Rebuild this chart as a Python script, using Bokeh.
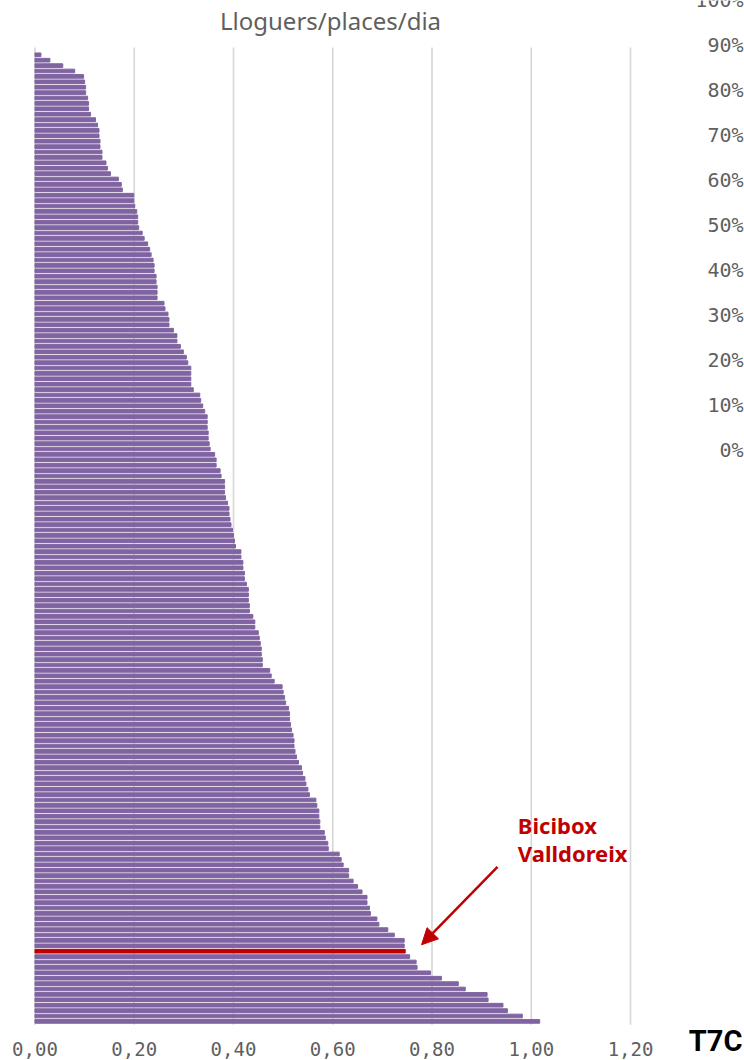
from bokeh.plotting import figure
from bokeh.models import Range1d, Label, Arrow, NormalHead, ColumnDataSource
from bokeh.embed import file_html
from bokeh.resources import INLINE

# ---- data ----
rates = [
    0.012, 0.030, 0.056, 0.080, 0.098, 0.100, 0.102, 0.102, 0.106, 0.108,
    0.108, 0.112, 0.122, 0.126, 0.129, 0.129, 0.131, 0.131, 0.135, 0.135,
    0.143, 0.146, 0.152, 0.168, 0.174, 0.176, 0.199, 0.199, 0.201, 0.205,
    0.207, 0.207, 0.209, 0.216, 0.220, 0.227, 0.231, 0.234, 0.238, 0.240,
    0.240, 0.244, 0.244, 0.246, 0.246, 0.246, 0.260, 0.262, 0.268, 0.270,
    0.270, 0.279, 0.286, 0.286, 0.293, 0.299, 0.305, 0.308, 0.314, 0.314,
    0.314, 0.314, 0.319, 0.332, 0.334, 0.338, 0.342, 0.347, 0.347, 0.347,
    0.349, 0.349, 0.351, 0.353, 0.362, 0.365, 0.365, 0.373, 0.375, 0.382,
    0.382, 0.382, 0.384, 0.388, 0.391, 0.391, 0.393, 0.395, 0.398, 0.400,
    0.402, 0.404, 0.415, 0.415, 0.419, 0.419, 0.422, 0.422, 0.426, 0.430,
    0.430, 0.430, 0.432, 0.432, 0.439, 0.443, 0.443, 0.450, 0.452, 0.454,
    0.456, 0.456, 0.458, 0.458, 0.473, 0.476, 0.482, 0.498, 0.500, 0.503,
    0.505, 0.511, 0.513, 0.513, 0.515, 0.517, 0.520, 0.522, 0.522, 0.524,
    0.527, 0.531, 0.537, 0.539, 0.544, 0.546, 0.550, 0.553, 0.566, 0.568,
    0.572, 0.572, 0.574, 0.574, 0.583, 0.585, 0.590, 0.591, 0.613, 0.617,
    0.621, 0.632, 0.632, 0.641, 0.650, 0.659, 0.669, 0.669, 0.674, 0.676,
    0.689, 0.693, 0.711, 0.724, 0.744, 0.744, 0.746, 0.755, 0.768, 0.770,
    0.797, 0.819, 0.853, 0.867, 0.911, 0.913, 0.943, 0.952, 0.982, 1.017,
]
highlight_rank = 167
highlight_name = ["Bicibox", "Valldoreix"]

x_ticks = [0.0, 0.2, 0.4, 0.6, 0.8, 1.0, 1.2]
x_tick_labels = ["0,00", "0,20", "0,40", "0,60", "0,80", "1,00", "1,20"]
pct_ticks = [0, 10, 20, 30, 40, 50, 60, 70, 80, 90, 100]
pct_labels = ["0%", "10%", "20%", "30%", "40%", "50%", "60%", "70%", "80%", "90%", "100%"]
title_text = "Lloguers/places/dia"
corner_text = "T7C"

# ---- styling / layout ----
PURPLE = "#8064A2"
RED = "#C00000"
GRAY_TXT = "#5F5F5F"
GRID = "#D6D6D6"
TICK_FONT = "DejaVu Sans Mono"

W, H = 744, 1060
X0, X1 = -0.0695, 1.4297          # horizontal range of the canvas
Y_BOTTOM, Y_TOP = 187.24, -9.056   # rank units (rank 1 at top)
GRID_TOP, GRID_BOTTOM = -0.35, 180.61
TICK_Y = 185.02
TITLE_Y = -5.35
PCT_X = 1.4277
CORNER_X = 1.4255
CORNER_Y = 183.54

rank = list(range(1, len(rates) + 1))
colors = [RED if r == highlight_rank else PURPLE for r in rank]
src = ColumnDataSource(dict(rank=rank, rate=rates, color=colors))

p = figure(width=W, height=H, output_backend="svg", toolbar_location=None,
           x_range=Range1d(X0, X1), y_range=Range1d(Y_BOTTOM, Y_TOP),
           x_axis_location=None, y_axis_location=None,
           min_border_left=0, min_border_right=0, min_border_top=0, min_border_bottom=0)
p.outline_line_color = None
p.xgrid.grid_line_color = None
p.ygrid.grid_line_color = None
p.background_fill_color = "white"
p.border_fill_color = "white"

# percentage scale of the neighbouring chart (right edge)
p.extra_y_ranges = {"pct": Range1d(-135.78, 99.78)}

# vertical gridlines at the tick values
p.segment(x0=x_ticks, x1=x_ticks, y0=[GRID_TOP] * len(x_ticks), y1=[GRID_BOTTOM] * len(x_ticks),
          line_color=GRID, line_width=1.6)

p.hbar(y="rank", left=0, right="rate", height=0.68, color="color", source=src)

# x tick labels
for t, lab in zip(x_ticks, x_tick_labels):
    p.add_layout(Label(x=t, y=TICK_Y, text=lab, text_align="center", text_baseline="middle",
                       text_font=TICK_FONT, text_font_size="19px", text_color=GRAY_TXT))

# right-hand percentage labels
for v, lab in zip(pct_ticks, pct_labels):
    p.add_layout(Label(x=PCT_X, y=v, y_range_name="pct", text=lab, text_align="right",
                       text_baseline="middle", text_font=TICK_FONT,
                       text_font_size="20px", text_color=GRAY_TXT))

# title
p.add_layout(Label(x=0.5955, y=TITLE_Y, text=title_text, text_align="center",
                   text_baseline="middle", text_font="Noto Sans",
                   text_font_size="24px", text_color=GRAY_TXT))

# corner tag
p.add_layout(Label(x=CORNER_X, y=CORNER_Y, text=corner_text, text_align="right",
                   text_baseline="middle", text_font="Roboto", text_font_style="bold",
                   text_font_size="29px", text_color="black"))

# annotation
p.add_layout(Label(x=0.973, y=143.7, text=highlight_name[0], text_align="left",
                   text_baseline="middle", text_font="Noto Sans", text_font_style="bold",
                   text_font_size="22px", text_color=RED))
p.add_layout(Label(x=0.973, y=148.9, text=highlight_name[1], text_align="left",
                   text_baseline="middle", text_font="Noto Sans", text_font_style="bold",
                   text_font_size="22px", text_color=RED))
p.add_layout(Arrow(x_start=0.932, y_start=151.4, x_end=0.779, y_end=165.8,
                   line_color=RED, line_width=2.5,
                   end=NormalHead(size=16, fill_color=RED, line_color=RED)))

open("out.html", "w").write(file_html(p, INLINE))
